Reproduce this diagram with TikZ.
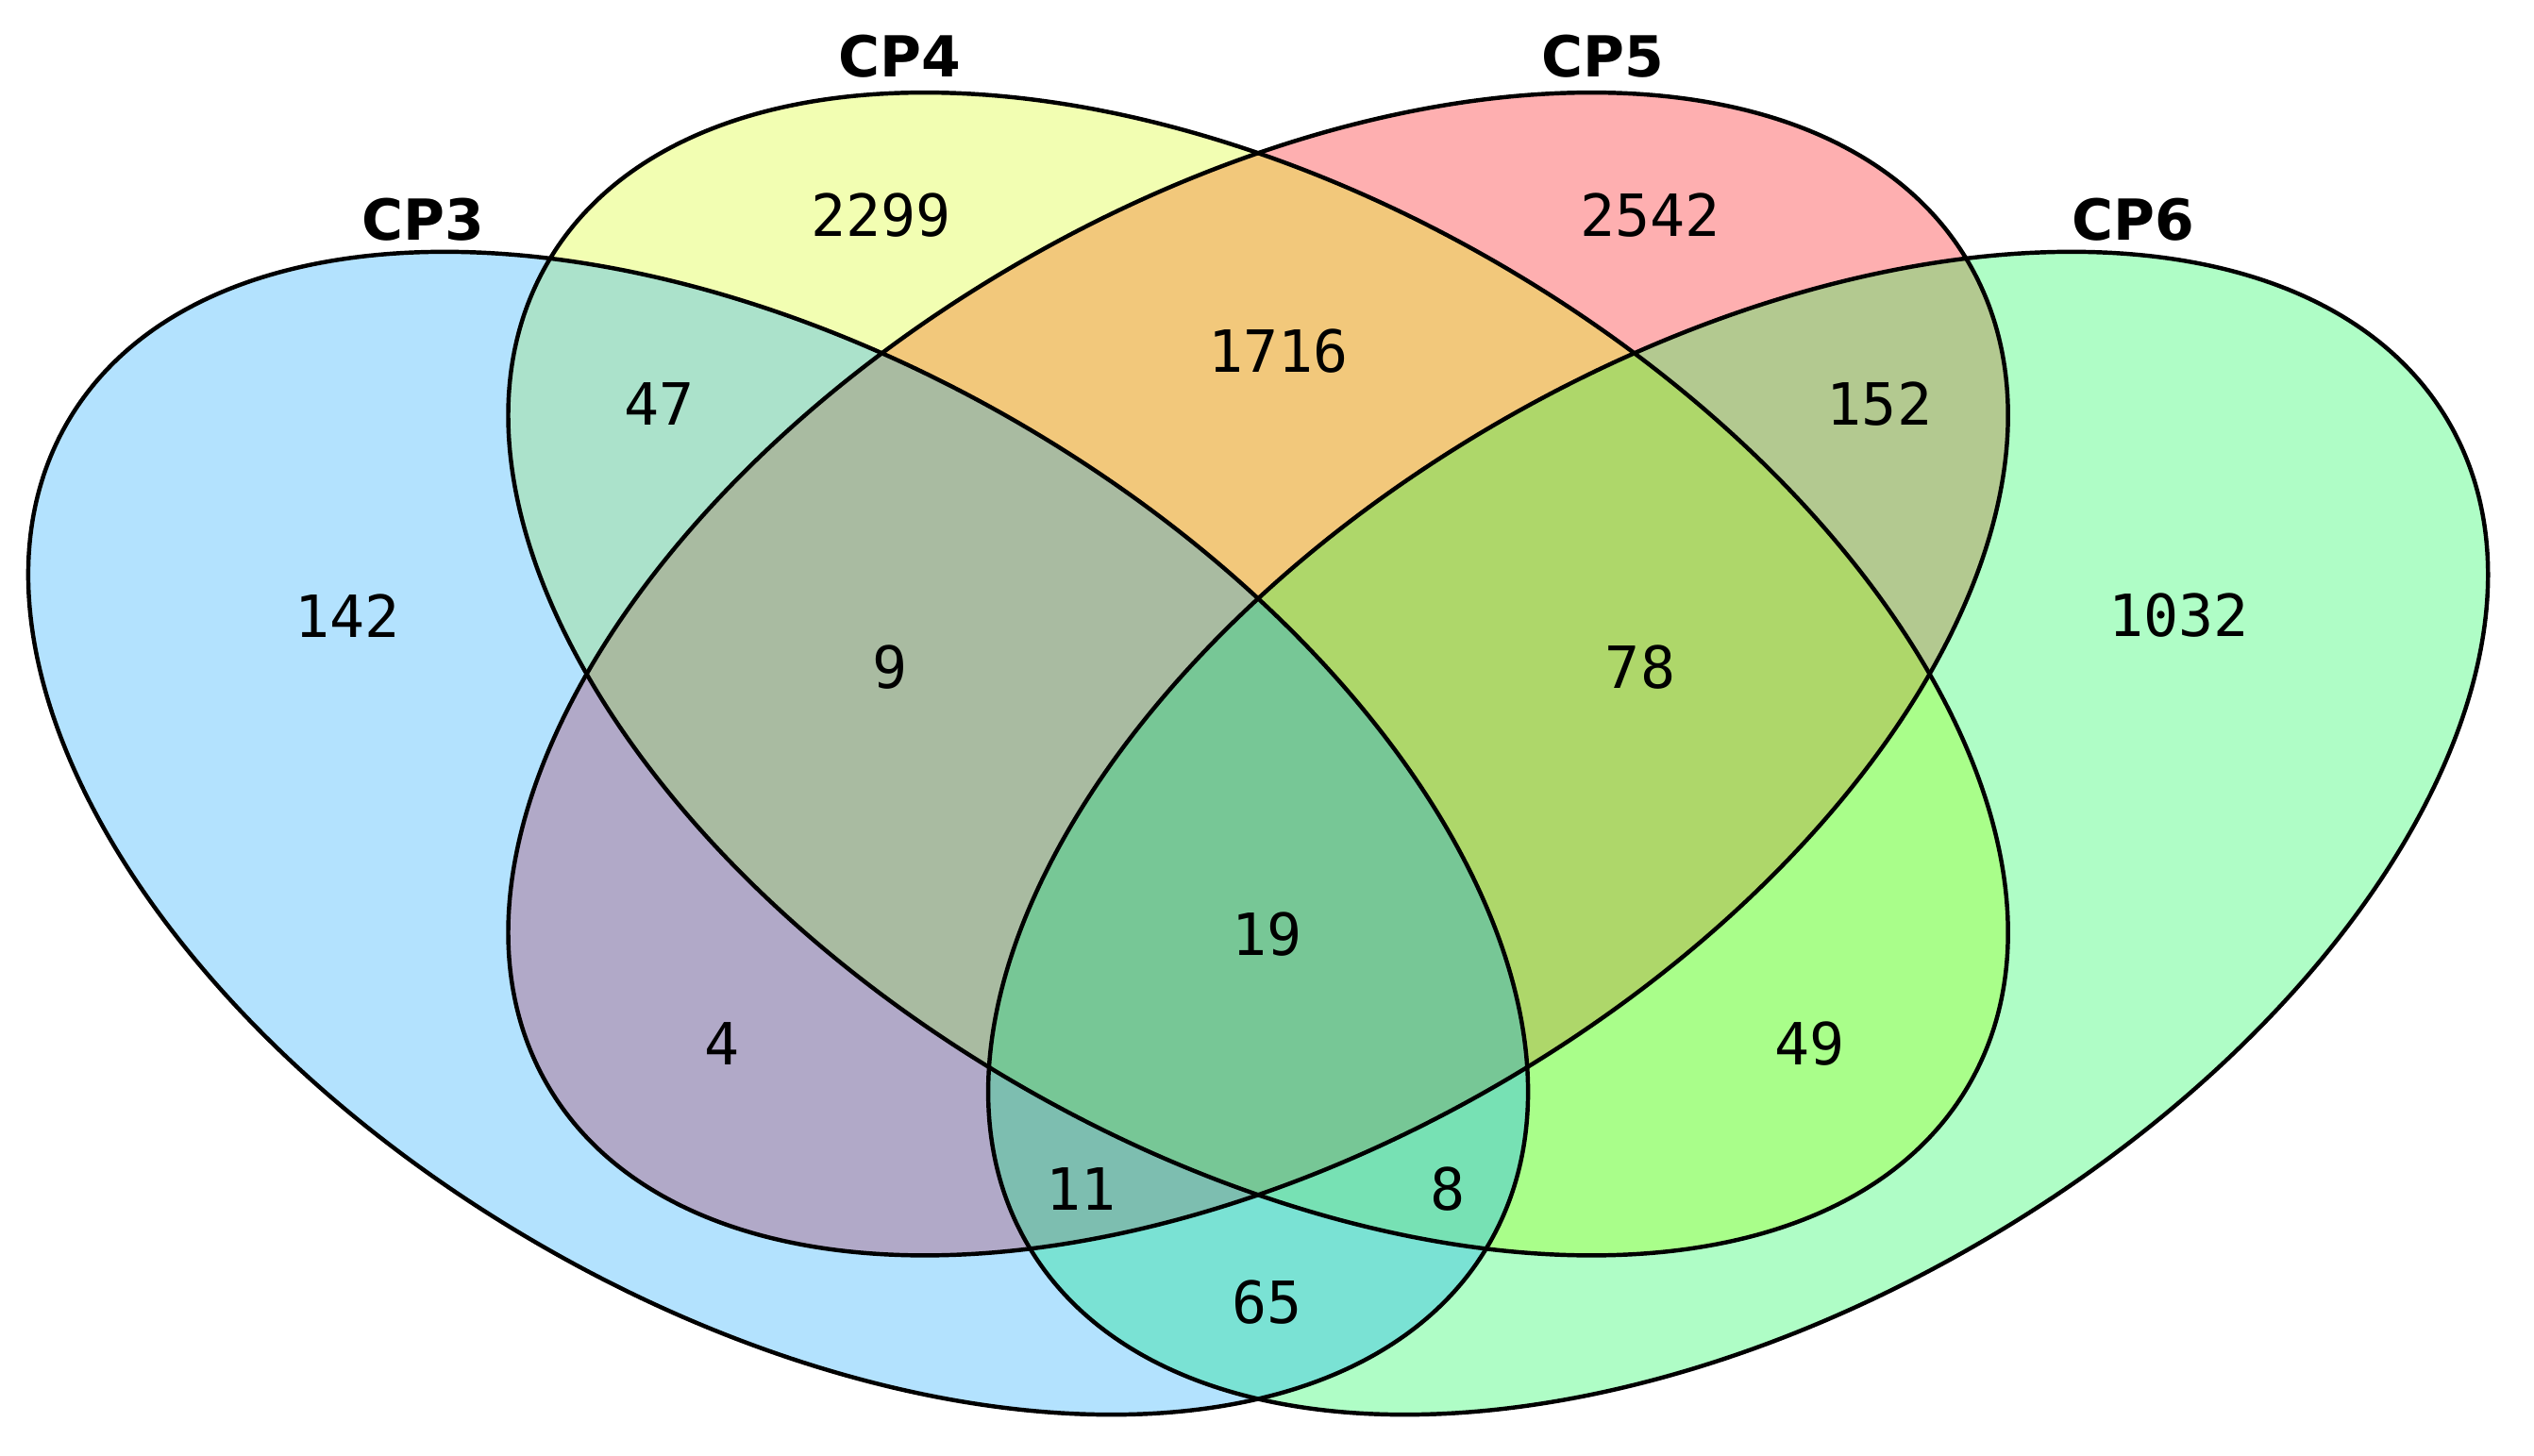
\documentclass[tikz,border=0pt]{standalone}
\usepackage{fontspec}
\setmainfont{DejaVu Sans}
\newfontfamily\numfont{DejaVu Sans Mono}
\definecolor{cA}{HTML}{B3E2FE}
\definecolor{cB}{HTML}{F2FEB2}
\definecolor{cC}{HTML}{FEAFB0}
\definecolor{cD}{HTML}{AFFDC6}
\definecolor{cAB}{HTML}{ABE2CB}
\definecolor{cBC}{HTML}{F2C87B}
\definecolor{cCD}{HTML}{B3C990}
\definecolor{cAC}{HTML}{B1A9C8}
\definecolor{cBD}{HTML}{A9FE8A}
\definecolor{cAD}{HTML}{7AE2D4}
\definecolor{cABC}{HTML}{A9BBA1}
\definecolor{cBCD}{HTML}{AED76A}
\definecolor{cACD}{HTML}{7DBEB0}
\definecolor{cABD}{HTML}{77E1B4}
\definecolor{cABCD}{HTML}{77C796}
\begin{document}
\begin{tikzpicture}[x=1pt,y=1pt,
  eA/.style={rotate around={-30:(481.5,-515.65)}},
  eB/.style={rotate around={-30:(778.5,-417.1)}},
  eC/.style={rotate around={30:(778.5,-417.1)}},
  eD/.style={rotate around={30:(1075.5,-515.65)}},
  setlabel/.style={font=\fontsize{35}{40}\selectfont\bfseries, inner sep=0pt},
  count/.style={font=\numfont\fontsize{36}{40}\selectfont, inner sep=0pt},
  outline/.style={draw=black, line width=2.6pt}]
\useasboundingbox (0,0) rectangle (1568,-900.5);
\coordinate (cenA) at (481.5,-515.65);
\coordinate (cenB) at (778.5,-417.1);
\coordinate (cenC) at (778.5,-417.1);
\coordinate (cenD) at (1075.5,-515.65);
% single sets
\fill[cA,eA] (cenA) ellipse [x radius=508, y radius=294.3];
\fill[cB,eB] (cenB) ellipse [x radius=508, y radius=294.3];
\fill[cC,eC] (cenC) ellipse [x radius=508, y radius=294.3];
\fill[cD,eD] (cenD) ellipse [x radius=508, y radius=294.3];
% pairs
\begin{scope}\clip[eA] (cenA) ellipse [x radius=508, y radius=294.3];
\clip[eB] (cenB) ellipse [x radius=508, y radius=294.3];
\fill[cAB] (0,0) rectangle (1568,-901);\end{scope}
\begin{scope}\clip[eA] (cenA) ellipse [x radius=508, y radius=294.3];
\clip[eC] (cenC) ellipse [x radius=508, y radius=294.3];
\fill[cAC] (0,0) rectangle (1568,-901);\end{scope}
\begin{scope}\clip[eA] (cenA) ellipse [x radius=508, y radius=294.3];
\clip[eD] (cenD) ellipse [x radius=508, y radius=294.3];
\fill[cAD] (0,0) rectangle (1568,-901);\end{scope}
\begin{scope}\clip[eB] (cenB) ellipse [x radius=508, y radius=294.3];
\clip[eC] (cenC) ellipse [x radius=508, y radius=294.3];
\fill[cBC] (0,0) rectangle (1568,-901);\end{scope}
\begin{scope}\clip[eB] (cenB) ellipse [x radius=508, y radius=294.3];
\clip[eD] (cenD) ellipse [x radius=508, y radius=294.3];
\fill[cBD] (0,0) rectangle (1568,-901);\end{scope}
\begin{scope}\clip[eC] (cenC) ellipse [x radius=508, y radius=294.3];
\clip[eD] (cenD) ellipse [x radius=508, y radius=294.3];
\fill[cCD] (0,0) rectangle (1568,-901);\end{scope}
% triples
\begin{scope}\clip[eA] (cenA) ellipse [x radius=508, y radius=294.3];
\clip[eB] (cenB) ellipse [x radius=508, y radius=294.3];
\clip[eC] (cenC) ellipse [x radius=508, y radius=294.3];
\fill[cABC] (0,0) rectangle (1568,-901);\end{scope}
\begin{scope}\clip[eA] (cenA) ellipse [x radius=508, y radius=294.3];
\clip[eB] (cenB) ellipse [x radius=508, y radius=294.3];
\clip[eD] (cenD) ellipse [x radius=508, y radius=294.3];
\fill[cABD] (0,0) rectangle (1568,-901);\end{scope}
\begin{scope}\clip[eA] (cenA) ellipse [x radius=508, y radius=294.3];
\clip[eC] (cenC) ellipse [x radius=508, y radius=294.3];
\clip[eD] (cenD) ellipse [x radius=508, y radius=294.3];
\fill[cACD] (0,0) rectangle (1568,-901);\end{scope}
\begin{scope}\clip[eB] (cenB) ellipse [x radius=508, y radius=294.3];
\clip[eC] (cenC) ellipse [x radius=508, y radius=294.3];
\clip[eD] (cenD) ellipse [x radius=508, y radius=294.3];
\fill[cBCD] (0,0) rectangle (1568,-901);\end{scope}
% all four
\begin{scope}\clip[eA] (cenA) ellipse [x radius=508, y radius=294.3];
\clip[eB] (cenB) ellipse [x radius=508, y radius=294.3];
\clip[eC] (cenC) ellipse [x radius=508, y radius=294.3];
\clip[eD] (cenD) ellipse [x radius=508, y radius=294.3];
\fill[cABCD] (0,0) rectangle (1568,-901);\end{scope}
% outlines
\draw[outline,eA] (cenA) ellipse [x radius=508, y radius=294.3];
\draw[outline,eB] (cenB) ellipse [x radius=508, y radius=294.3];
\draw[outline,eC] (cenC) ellipse [x radius=508, y radius=294.3];
\draw[outline,eD] (cenD) ellipse [x radius=508, y radius=294.3];
% set labels
\node[setlabel] (lA) at (262,-136) {CP3};
\node[setlabel] (lB) at (557,-35) {CP4};
\node[setlabel] (lC) at (992,-35) {CP5};
\node[setlabel] (lD) at (1320,-136) {CP6};
% counts
\node[count] (nA) at (215,-381) {142};
\node[count] (nB) at (545,-133) {2299};
\node[count] (nC) at (1021,-133) {2542};
\node[count] (nD) at (1348,-381) {1032};
\node[count] (nAB) at (408,-250) {47};
\node[count] (nBC) at (791,-217) {1716};
\node[count] (nCD) at (1163,-250) {152};
\node[count] (nABC) at (551,-413) {9};
\node[count] (nBCD) at (1015,-413) {78};
\node[count] (nABCD) at (784,-578) {19};
\node[count] (nAC) at (447,-646) {4};
\node[count] (nBD) at (1120,-646) {49};
\node[count] (nACD) at (669,-736) {11};
\node[count] (nABD) at (896,-736) {8};
\node[count] (nAD) at (784,-806) {65};
\end{tikzpicture}
\end{document}
